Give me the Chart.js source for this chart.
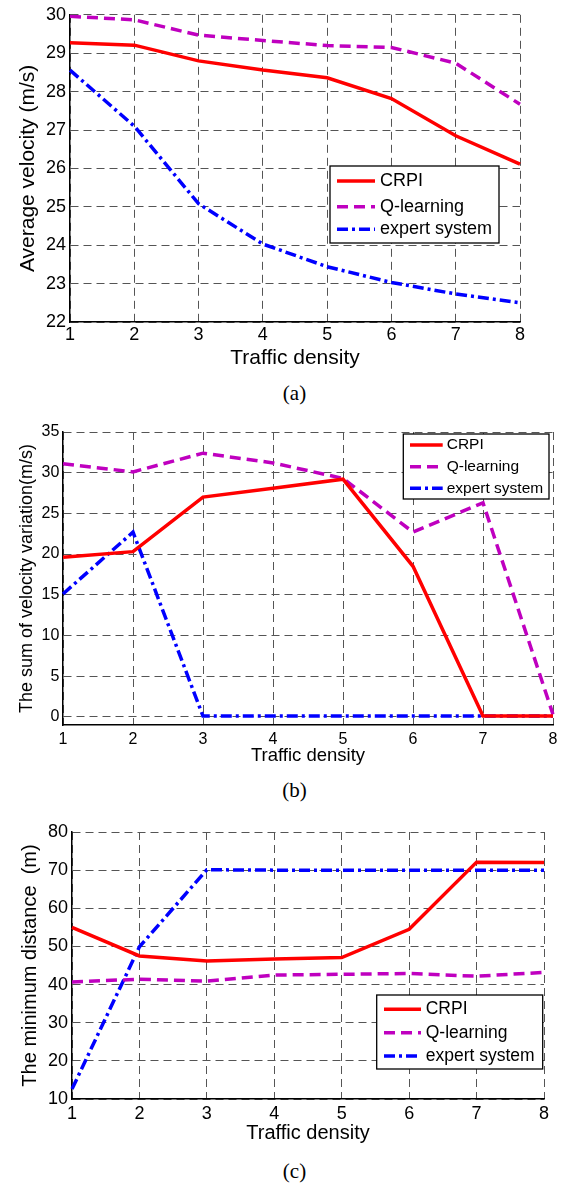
<!DOCTYPE html>
<html>
<head>
<meta charset="utf-8">
<script src="https://cdn.jsdelivr.net/npm/chart.js@4.4.1/dist/chart.umd.min.js"></script>
<style>
  body { margin: 0; background: #fff; }
  #page { position: relative; width: 569px; height: 1186px; overflow: hidden; background: #fff; }
  .plot { position: absolute; left: 0; width: 569px; }
  .cap { position: absolute; left: 0; width: 589px; text-align: center; line-height: 24px;
         font-family: "Liberation Serif", "Times New Roman", serif; font-size: 21px; color: #000; }
</style>
</head>
<body>
<div id="page">
  <div class="plot" style="top:0;height:372px"><canvas id="chartA"></canvas></div>
  <div class="cap" style="top:381px">(a)</div>
  <div class="plot" style="top:400px;height:370px"><canvas id="chartB"></canvas></div>
  <div class="cap" style="top:778px">(b)</div>
  <div class="plot" style="top:800px;height:350px"><canvas id="chartC"></canvas></div>
  <div class="cap" style="top:1159px">(c)</div>
</div>
<script>
// x categories
var densities = ['1', '2', '3', '4', '5', '6', '7', '8'];

// (a) average velocity (m/s)
var velCRPI = [29.27, 29.21, 28.80, 28.56, 28.36, 27.82, 26.85, 26.11];
var velQ = [29.96, 29.87, 29.47, 29.33, 29.20, 29.15, 28.74, 27.67];
var velExpert = [28.56, 27.10, 25.08, 24.03, 23.44, 23.03, 22.73, 22.50];
var velTicks = [22, 23, 24, 25, 26, 27, 28, 29, 30];

// (b) sum of velocity variation (m/s)
var varCRPI = [19.6, 20.3, 27.0, 28.1, 29.2, 18.5, 0.1, 0.1];
var varQ = [31.1, 30.1, 32.4, 31.2, 29.3, 22.7, 26.3, 0.3];
var varExpert = [15.1, 22.7, 0.1, 0.1, 0.1, 0.1, 0.1, 0.1];
var varTicks = [0, 5, 10, 15, 20, 25, 30, 35];

// (c) minimum distance (m)
var distCRPI = [55.0, 47.5, 46.2, 46.7, 47.1, 54.5, 72.1, 72.0];
var distQ = [40.7, 41.4, 40.9, 42.5, 42.7, 42.9, 42.2, 43.2];
var distExpert = [12.6, 49.9, 70.1, 70.0, 70.0, 70.0, 70.0, 70.0];
var distTicks = [10, 20, 30, 40, 50, 60, 70, 80];

var FONT = '"Liberation Sans", Arial, sans-serif';
var GRID = '#555';
var COLORS = { crpi: '#ff0000', q: '#bf00bf', expert: '#0000ff' };
var DASH = { crpi: [], q: [11, 6], expert: [11, 4, 3, 4] };
var LINE_W = 3.5;

function series(label, data, key) {
    return {
        label: label,
        data: data,
        borderColor: COLORS[key],
        backgroundColor: COLORS[key],
        borderWidth: LINE_W,
        borderDash: DASH[key],
        pointRadius: 0,
        tension: 0,
        fill: false
    };
}

// legend drawn as a framed box like the MATLAB one
function boxLegend(lg) {
    return {
        id: 'boxLegend',
        afterDatasetsDraw: function (chart) {
            var ctx = chart.ctx;
            var b = lg.box;
            ctx.save();
            ctx.fillStyle = '#fff';
            ctx.fillRect(b[0], b[1], b[2] - b[0], b[3] - b[1]);
            ctx.strokeStyle = '#000';
            ctx.lineWidth = 1.3;
            ctx.strokeRect(b[0], b[1], b[2] - b[0], b[3] - b[1]);
            ctx.font = lg.font + 'px ' + FONT;
            ctx.textBaseline = 'middle';
            chart.data.datasets.forEach(function (ds, i) {
                var y = lg.rows[i];
                ctx.beginPath();
                ctx.setLineDash(ds.borderDash);
                ctx.strokeStyle = ds.borderColor;
                ctx.lineWidth = LINE_W;
                ctx.moveTo(lg.lineX[0], y);
                ctx.lineTo(lg.lineX[1], y);
                ctx.stroke();
                ctx.setLineDash([]);
                ctx.fillStyle = '#000';
                ctx.fillText(ds.label, lg.textX, y);
            });
            ctx.restore();
        }
    };
}

function makeChart(id, sets, yTicks, yMin, yTitle, ax, lg) {
    return new Chart(document.getElementById(id), {
        type: 'line',
        data: { labels: densities, datasets: sets },
        options: {
            responsive: true,
            maintainAspectRatio: false,
            animation: false,
            layout: { padding: { top: ax.top, right: ax.right, left: 0, bottom: 0 } },
            plugins: { legend: { display: false }, tooltip: { enabled: false } },
            scales: {
                x: {
                    offset: false,
                    grid: { color: GRID, lineWidth: 1, drawTicks: false },
                    border: { color: '#000', width: 1.5, dash: [8, 5] },
                    ticks: { color: '#000', font: { family: FONT, size: ax.tickFont }, padding: ax.xPad, maxRotation: 0, autoSkip: false },
                    title: { display: true, text: 'Traffic density', color: '#000',
                             font: { family: FONT, size: ax.xTitleFont }, padding: { top: 0, bottom: ax.xTitlePad } },
                    afterFit: function (s) { s.height = ax.xHeight; }
                },
                y: {
                    min: yMin,
                    max: yTicks[yTicks.length - 1],
                    afterBuildTicks: function (s) { s.ticks = yTicks.map(function (v) { return { value: v }; }); },
                    grid: { color: GRID, lineWidth: 1, drawTicks: false },
                    border: { color: '#000', width: 1.5, dash: [8, 5] },
                    ticks: { color: '#000', font: { family: FONT, size: ax.tickFont }, padding: ax.yPad },
                    title: { display: true, text: yTitle, color: '#000',
                             font: { family: FONT, size: ax.yTitleFont }, padding: { top: ax.yTitlePad, bottom: 0 } },
                    afterFit: function (s) { s.width = ax.yWidth; }
                }
            }
        },
        plugins: [boxLegend(lg)]
    });
}

makeChart('chartA',
    [series('CRPI', velCRPI, 'crpi'), series('Q-learning', velQ, 'q'), series('expert system', velExpert, 'expert')],
    velTicks, 22, 'Average velocity (m/s)',
    { top: 10, right: 49, yWidth: 70, xHeight: 50, tickFont: 18, xPad: 2, yPad: 4,
      xTitleFont: 21, xTitlePad: 1.4, yTitleFont: 21, yTitlePad: 15.4 },
    { box: [330, 166, 499, 243], rows: [181, 206.7, 229.3], lineX: [337, 375], textX: 380, font: 18 });

makeChart('chartB',
    [series('CRPI', varCRPI, 'crpi'), series('Q-learning', varQ, 'q'), series('expert system', varExpert, 'expert')],
    varTicks, -1, 'The sum of velocity variation(m/s)',
    { top: 32, right: 16, yWidth: 63, xHeight: 45, tickFont: 16, xPad: 5, yPad: 3.6,
      xTitleFont: 18.5, xTitlePad: 2.9, yTitleFont: 18, yTitlePad: 16.2 },
    { box: [403.3, 34, 549, 99], rows: [45, 66.7, 88.3], lineX: [410, 442.7], textX: 446.7, font: 15.5 });

makeChart('chartC',
    [series('CRPI', distCRPI, 'crpi'), series('Q-learning', distQ, 'q'), series('expert system', distExpert, 'expert')],
    distTicks, 10, 'The minimum distance  (m)',
    { top: 32, right: 25, yWidth: 72, xHeight: 51, tickFont: 18, xPad: 4, yPad: 4,
      xTitleFont: 20, xTitlePad: 5, yTitleFont: 20, yTitlePad: 18.7 },
    { box: [376.7, 195, 542.7, 269], rows: [209.3, 232.7, 256], lineX: [384, 421], textX: 425.7, font: 17.5 });
</script>
</body>
</html>
